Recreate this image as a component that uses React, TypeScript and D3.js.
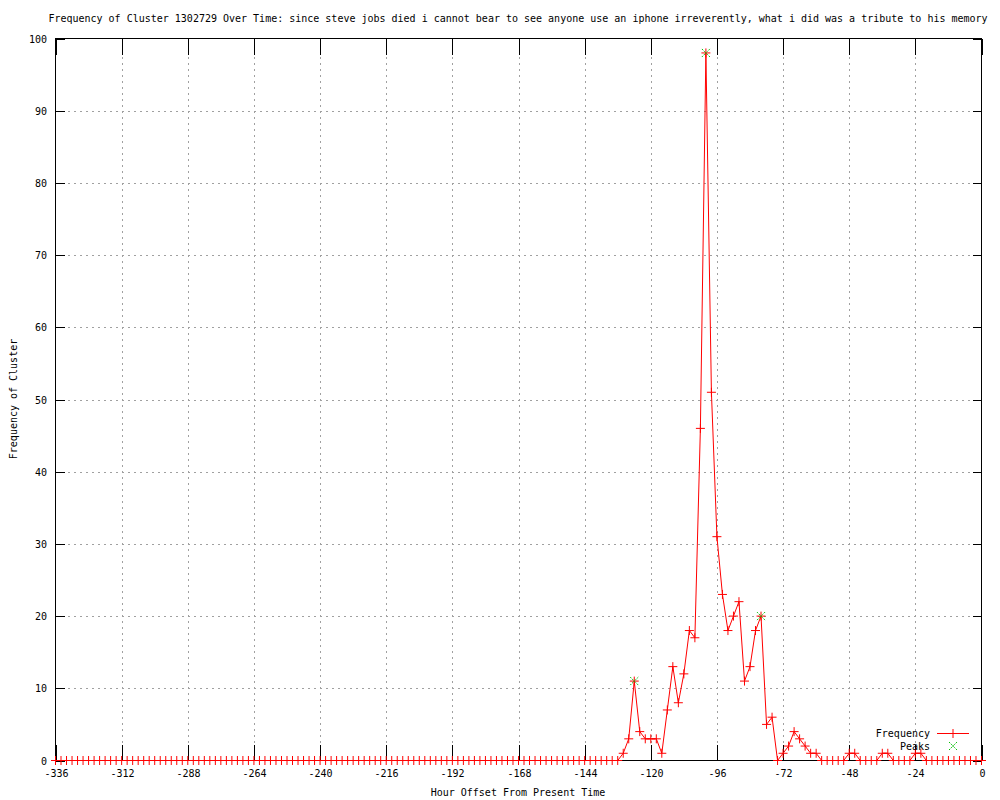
import React from "react";
import * as d3 from "d3";

const TITLE =
  "Frequency of Cluster 1302729 Over Time: since steve jobs died i cannot bear to see anyone use an iphone irreverently, what i did was a tribute to his memory";
const X_LABEL = "Hour Offset From Present Time";
const Y_LABEL = "Frequency of Cluster";

// Hour offsets: every 2 hours from -336 to 0
const hours: number[] = d3.range(-336, 1, 2);

// Frequency values (one per hour offset above)
const frequency: number[] = [
  0, 0, 0, 0, 0, 0, 0, 0, 0, 0, 0, 0, 0, 0, 0, 0, 0, 0, 0, 0,
  0, 0, 0, 0, 0, 0, 0, 0, 0, 0, 0, 0, 0, 0, 0, 0, 0, 0, 0, 0,
  0, 0, 0, 0, 0, 0, 0, 0, 0, 0, 0, 0, 0, 0, 0, 0, 0, 0, 0, 0,
  0, 0, 0, 0, 0, 0, 0, 0, 0, 0, 0, 0, 0, 0, 0, 0, 0, 0, 0, 0,
  0, 0, 0, 0, 0, 0, 0, 0, 0, 0, 0, 0, 0, 0, 0, 0, 0, 0, 0, 0,
  0, 0, 0,
  1, 3, 11, 4, 3, 3, 3, 1, 7, 13, 8, 12, 18, 17, 46, 98, 51, 31, 23, 18,
  20, 22, 11, 13, 18, 20, 5, 6, 0, 1, 2, 4, 3, 2, 1, 1,
  0, 0, 0, 0, 0, 1, 1, 0, 0, 0, 0, 1, 1, 0, 0, 0, 0, 1, 1,
  0, 0, 0, 0, 0, 0, 0, 0, 0, 0, 0,
];

const peakHours: number[] = [-126, -100, -80];
const peakValues: number[] = [11, 98, 20];

const xTicks: number[] = [-336, -312, -288, -264, -240, -216, -192, -168, -144, -120, -96, -72, -48, -24, 0];
const yTicks: number[] = [0, 10, 20, 30, 40, 50, 60, 70, 80, 90, 100];

const W = 1000;
const H = 800;
const L = 55.5;
const R = 981.5;
const T = 38.5;
const B = 760.5;
const FONT = "'DejaVu Sans Mono', 'Liberation Mono', monospace";
const GRID = "#a0a0a0";
const RED = "#ff0000";
const GREEN = "#00c000";

export default function App() {
  const x = d3.scaleLinear().domain([-336, 0]).range([L, R]);
  const y = d3.scaleLinear().domain([0, 100]).range([B, T]);
  const pts: [number, number][] = hours.map((h, i) => [h, frequency[i]]);
  const line = d3
    .line<[number, number]>()
    .x((d) => x(d[0]))
    .y((d) => y(d[1]));

  const snap = (v: number) => Math.round(v) + 0.5;

  const plus = (cx: number, cy: number, key: string | number, color = RED) => (
    <g key={key} stroke={color} strokeWidth={1}>
      <line x1={cx - 4.5} x2={cx + 4.5} y1={cy} y2={cy} />
      <line x1={cx} x2={cx} y1={cy - 4.5} y2={cy + 4.5} />
    </g>
  );
  const cross = (cx: number, cy: number, key: string | number) => (
    <g key={key} stroke={GREEN} strokeWidth={1} strokeDasharray="1.5,1">
      <line x1={cx - 4} x2={cx + 4} y1={cy - 4} y2={cy + 4} />
      <line x1={cx - 4} x2={cx + 4} y1={cy + 4} y2={cy - 4} />
    </g>
  );

  return (
    <div style={{ position: "absolute", left: 0, top: 0, width: W, height: H, background: "#fff" }}>
      <svg width={W} height={H} style={{ display: "block" }} fontFamily={FONT} fontSize={10}>
        <rect x={0} y={0} width={W} height={H} fill="#fff" />
        {/* grid */}
        <g shapeRendering="crispEdges">
          {xTicks.slice(1, -1).map((t) => (
            <line key={"gx" + t} x1={snap(x(t))} x2={snap(x(t))} y1={T} y2={B}
              stroke={GRID} strokeDasharray="2,4" />
          ))}
          {yTicks.slice(1, -1).map((t) => (
            <line key={"gy" + t} x1={L} x2={R} y1={snap(y(t))} y2={snap(y(t))}
              stroke={GRID} strokeDasharray="2,4" />
          ))}
        </g>
        {/* ticks */}
        {xTicks.map((t) => {
          const px = snap(x(t));
          return (
            <g key={"tx" + t}>
              <line x1={px} x2={px} y1={B} y2={B - 16} stroke="#000" shapeRendering="crispEdges" />
              <line x1={px} x2={px} y1={T} y2={T + 16} stroke="#000" shapeRendering="crispEdges" />
              <text x={px} y={777} textAnchor="middle" fill="#000">{t}</text>
            </g>
          );
        })}
        {yTicks.map((t) => {
          const py = snap(y(t));
          return (
            <g key={"ty" + t}>
              <line x1={L} x2={L + 9} y1={py} y2={py} stroke="#000" shapeRendering="crispEdges" />
              <line x1={R} x2={R - 9} y1={py} y2={py} stroke="#000" shapeRendering="crispEdges" />
              <text x={47} y={py + 3.5} textAnchor="end" fill="#000">{t}</text>
            </g>
          );
        })}
        {/* border */}
        <rect x={L} y={T} width={R - L} height={B - T} fill="none" stroke="#000" shapeRendering="crispEdges" />
        {/* data */}
        <path d={line(pts) || ""} fill="none" stroke={RED} strokeWidth={1} />
        {pts.map((d, i) => plus(x(d[0]), y(d[1]), i))}
        {peakHours.map((h, i) => cross(x(h), y(peakValues[i]), "p" + i))}
        {/* legend */}
        <text x={930} y={736.5} textAnchor="end" fill="#000">Frequency</text>
        <line x1={937} x2={969} y1={733.5} y2={733.5} stroke={RED} />
        {plus(953, 733.5, "lg1")}
        <text x={930} y={749.5} textAnchor="end" fill="#000">Peaks</text>
        {cross(953, 746, "lg2")}
        {/* labels */}
        <text x={518} y={22} textAnchor="middle" fill="#000">{TITLE}</text>
        <text x={518} y={796} textAnchor="middle" fill="#000">{X_LABEL}</text>
        <text transform={`translate(17,399) rotate(-90)`} textAnchor="middle" fill="#000">{Y_LABEL}</text>
      </svg>
    </div>
  );
}
